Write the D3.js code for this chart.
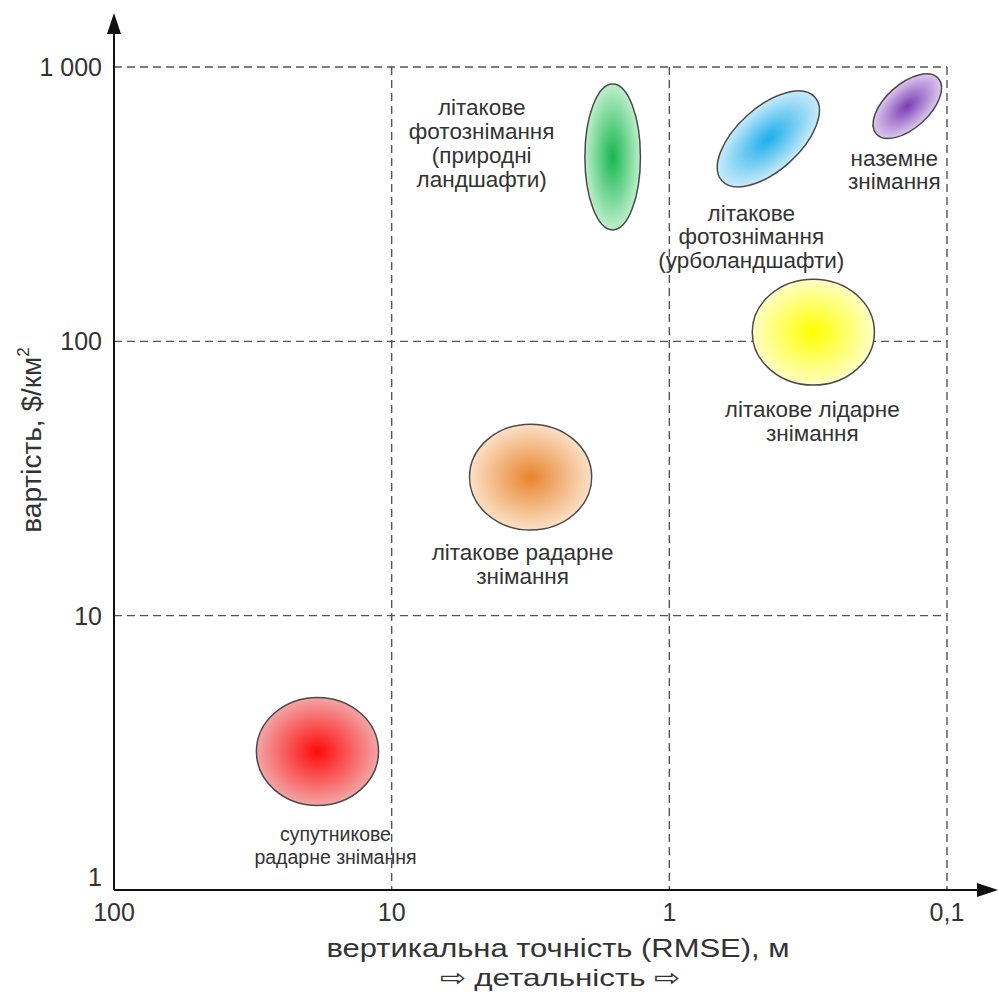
<!DOCTYPE html>
<html><head><meta charset="utf-8">
<script src="https://cdn.jsdelivr.net/npm/d3@7"></script>
<style>body{margin:0;background:#fff}svg{display:block}text{font-family:"Liberation Sans",Arial,sans-serif;fill:#333}</style>
</head><body>
<svg id="c" width="998" height="995"></svg>
<script>
// ---- data ----
const categories = ["супутникове радарне знімання","літакове радарне знімання","літакове фотознімання (природні ландшафти)","літакове фотознімання (урболандшафти)","наземне знімання","літакове лідарне знімання"];
const labelLines = [["супутникове","радарне знімання"],["літакове радарне","знімання"],["літакове","фотознімання","(природні","ландшафти)"],["літакове","фотознімання","(урболандшафти)"],["наземне","знімання"],["літакове лідарне","знімання"]];
const rmse = [18.5, 3.16, 1.6, 0.44, 0.139, 0.303];       // m (centre)
const cost = [3.2, 32, 470, 547, 720, 108];              // $/km2 (centre)
const spreadX = [0.22, 0.22, 0.10, 0.225, 0.15, 0.22];   // semi-axis, decades
const spreadY = [0.197, 0.193, 0.266, 0.115, 0.08, 0.193];// semi-axis, decades
const tilt = [0, 0, 0, -42, -42, 0];                     // degrees
const xTicks = [100, 10, 1, 0.1];
const xTickLabels = ["100","10","1","0,1"];
const yTicks = [1, 10, 100, 1000];
const yTickLabels = ["1","10","100","1 000"];

// ---- styles / layout ----
const colors = [["#ff0a0a","#f3a5a5"],["#e8842c","#fbe0c6"],["#17b650","#bdefcb"],["#1aaeea","#c8eafa"],["#7b3cb3","#dcc8ee"],["#ffff00","#ffffc4"]];
const labelOffset = [[18,90],[-8,83],[-131,-42],[-17,82],[-13,60],[-1,85]];
const labelSize = [19.5,22.5,22.5,22.5,22.5,22.5];
const labelLead = [23,24,24,23.5,23,24];

const svg = d3.select("#c");
const x = d3.scaleLog().domain([100, 0.1]).range([114, 947]);
const y = d3.scaleLog().domain([1, 1000]).range([890, 67]);
const decX = Math.abs(x(10) - x(100)), decY = Math.abs(y(1) - y(10));

const defs = svg.append("defs");
colors.forEach((c,i)=>{
  const g = defs.append("radialGradient").attr("id","g"+i);
  g.append("stop").attr("offset","0%").attr("stop-color",c[0]);
  g.append("stop").attr("offset","100%").attr("stop-color",c[1]);
});

// grid
const grid = svg.append("g").attr("stroke","#555").attr("stroke-width",1.4).attr("stroke-dasharray","8,5").attr("fill","none");
yTicks.slice(1).forEach(v=>grid.append("line").attr("x1",x(100)).attr("x2",x(0.1)).attr("y1",y(v)).attr("y2",y(v)));
xTicks.slice(1).forEach(v=>grid.append("line").attr("x1",x(v)).attr("x2",x(v)).attr("y1",y(1000)).attr("y2",y(1)));

// ellipses
const el = svg.append("g");
rmse.forEach((r,i)=>{
  el.append("ellipse")
    .attr("transform",`translate(${x(r)},${y(cost[i])}) rotate(${tilt[i]})`)
    .attr("rx",spreadX[i]*decX).attr("ry",spreadY[i]*decY)
    .attr("fill",`url(#g${i})`).attr("stroke","#4a4a4a").attr("stroke-width",1.5);
});

// labels
labelLines.forEach((lines,i)=>{
  const cx = x(rmse[i])+labelOffset[i][0];
  const t = svg.append("text").attr("text-anchor","middle").attr("font-size",labelSize[i])
    .attr("x",cx).attr("y",y(cost[i])+labelOffset[i][1]);
  lines.forEach((l,j)=>t.append("tspan").attr("x",cx).attr("dy",j?labelLead[i]:0).text(l));
});

// axes
const ax = svg.append("g").attr("stroke","#111").attr("stroke-width",2);
ax.append("line").attr("x1",x(100)).attr("x2",x(100)).attr("y1",y(1)).attr("y2",30);
ax.append("line").attr("x1",x(100)).attr("x2",982).attr("y1",y(1)).attr("y2",y(1));
svg.append("path").attr("d",`M${x(100)},13 L${x(100)-7},34 L${x(100)+7},34 Z`).attr("fill","#111");
svg.append("path").attr("d",`M998,${y(1)} L977,${y(1)-7} L977,${y(1)+7} Z`).attr("fill","#111");

yTicks.forEach((v,i)=>svg.append("text").attr("x",102).attr("y",i===0?y(v)-4:y(v)+9).attr("text-anchor","end").attr("font-size",25).text(yTickLabels[i]));
xTicks.forEach((v,i)=>svg.append("text").attr("x",x(v)).attr("y",921).attr("text-anchor","middle").attr("font-size",25).text(xTickLabels[i]));

svg.append("text").attr("x",558).attr("y",957).attr("text-anchor","middle").attr("font-size",26)
  .attr("textLength",463).attr("lengthAdjust","spacingAndGlyphs").text("вертикальна точність (RMSE), м");
svg.append("text").attr("x",560).attr("y",986).attr("text-anchor","middle").attr("font-size",24)
  .attr("textLength",241).attr("lengthAdjust","spacingAndGlyphs").text("⇨  детальність ⇨");
const yt = svg.append("text").attr("transform","translate(41,440) rotate(-90)").attr("text-anchor","middle").attr("font-size",28);
yt.append("tspan").text("вартість, $/км");
yt.append("tspan").attr("font-size",17).attr("dy",-12).text("2");
</script>
</body></html>
